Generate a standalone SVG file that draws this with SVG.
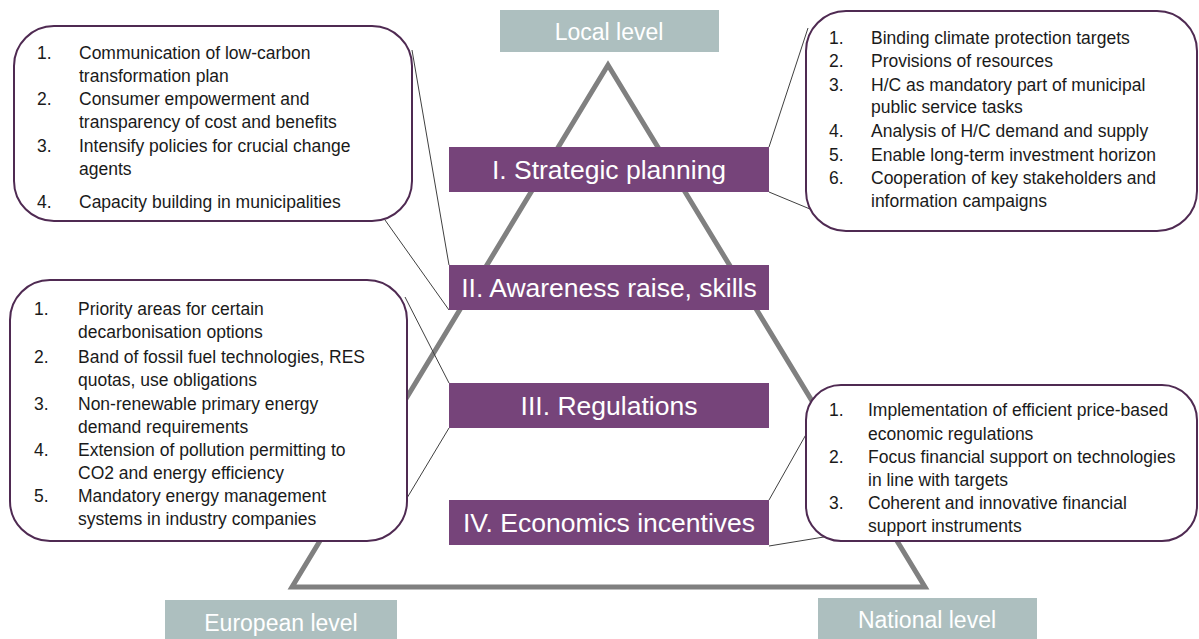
<svg xmlns="http://www.w3.org/2000/svg" width="1199" height="639" viewBox="0 0 1199 639">
<style>
.lvl{fill:#adbfbf}
.lvlt{fill:#ffffff;font-family:"Liberation Sans",Arial,sans-serif;font-size:23px;text-anchor:middle}
.pb{fill:#76447a}
.pbt{fill:#ffffff;font-family:"Liberation Sans",Arial,sans-serif;font-size:26.5px;text-anchor:middle}
.co{fill:#ffffff;stroke:#4f2a52;stroke-width:2}
.ct{fill:#1a1a1a;font-family:"Liberation Sans",Arial,sans-serif;font-size:17.5px}
.cn{fill:none;stroke:#404040;stroke-width:1}
</style>
<rect width="1199" height="639" fill="#ffffff"/>
<polygon id="pyramid" points="608,65 292,587 925,587" fill="none" stroke="#808080" stroke-width="5" stroke-linejoin="miter"/>
<g id="connectors">
<line class="cn" x1="412" y1="50" x2="449" y2="265"/>
<line class="cn" x1="385" y1="220" x2="449" y2="310"/>
<line class="cn" x1="808" y1="28" x2="769" y2="147"/>
<line class="cn" x1="769" y1="192" x2="822" y2="214"/>
<line class="cn" x1="405" y1="297" x2="449" y2="383"/>
<line class="cn" x1="407" y1="498" x2="449" y2="428"/>
<line class="cn" x1="769" y1="500" x2="830" y2="392"/>
<line class="cn" x1="769" y1="546" x2="830" y2="536"/>
</g>
<g id="local-level"><rect class="lvl" x="500" y="10" width="219" height="42"/><text class="lvlt" x="609" y="40">Local level</text></g>
<g id="european-level"><rect class="lvl" x="165" y="600" width="232" height="39"/><text class="lvlt" x="281" y="631">European level</text></g>
<g id="national-level"><rect class="lvl" x="818" y="598" width="219" height="41"/><text class="lvlt" x="927" y="628">National level</text></g>
<g id="strategic-planning"><rect class="pb" x="449" y="147" width="320" height="45"/><text class="pbt" x="609" y="179">I. Strategic planning</text></g>
<g id="awareness"><rect class="pb" x="449" y="265" width="320" height="45"/><text class="pbt" x="609" y="297">II. Awareness raise, skills</text></g>
<g id="regulations"><rect class="pb" x="449" y="383" width="320" height="45"/><text class="pbt" x="609" y="415">III. Regulations</text></g>
<g id="economics"><rect class="pb" x="449" y="500" width="320" height="45"/><text class="pbt" x="609" y="532">IV. Economics incentives</text></g>
<g id="callout-awareness">
<rect class="co" x="14" y="26" width="398" height="195" rx="40" ry="40"/>
<text class="ct"><tspan x="37" y="59">1.</tspan><tspan x="79" y="59">Communication of low-carbon</tspan><tspan x="79" y="82">transformation plan</tspan><tspan x="37" y="105">2.</tspan><tspan x="79" y="105">Consumer empowerment and</tspan><tspan x="79" y="128">transparency of cost and benefits</tspan><tspan x="37" y="152">3.</tspan><tspan x="79" y="152">Intensify policies for crucial change</tspan><tspan x="79" y="175">agents</tspan><tspan x="37" y="208">4.</tspan><tspan x="79" y="208">Capacity building in municipalities</tspan></text>
</g>
<g id="callout-strategic">
<rect class="co" x="806" y="11" width="391" height="220" rx="40" ry="40"/>
<text class="ct"><tspan x="829" y="44">1.</tspan><tspan x="871" y="44">Binding climate protection targets</tspan><tspan x="829" y="67">2.</tspan><tspan x="871" y="67">Provisions of resources</tspan><tspan x="829" y="91">3.</tspan><tspan x="871" y="91">H/C as mandatory part of municipal</tspan><tspan x="871" y="113">public service tasks</tspan><tspan x="829" y="137">4.</tspan><tspan x="871" y="137">Analysis of H/C demand and supply</tspan><tspan x="829" y="161">5.</tspan><tspan x="871" y="161">Enable long-term investment horizon</tspan><tspan x="829" y="184">6.</tspan><tspan x="871" y="184">Cooperation of key stakeholders and</tspan><tspan x="871" y="207">information campaigns</tspan></text>
</g>
<g id="callout-regulations">
<rect class="co" x="10" y="280" width="397" height="261" rx="40" ry="40"/>
<text class="ct"><tspan x="34" y="315">1.</tspan><tspan x="78" y="315">Priority areas for certain</tspan><tspan x="78" y="338">decarbonisation options</tspan><tspan x="34" y="363">2.</tspan><tspan x="78" y="363">Band of fossil fuel technologies, RES</tspan><tspan x="78" y="386">quotas, use obligations</tspan><tspan x="34" y="410">3.</tspan><tspan x="78" y="410">Non-renewable primary energy</tspan><tspan x="78" y="433">demand requirements</tspan><tspan x="34" y="456">4.</tspan><tspan x="78" y="456">Extension of pollution permitting to</tspan><tspan x="78" y="479">CO2 and energy efficiency</tspan><tspan x="34" y="502">5.</tspan><tspan x="78" y="502">Mandatory energy management</tspan><tspan x="78" y="525">systems in industry companies</tspan></text>
</g>
<g id="callout-economics">
<rect class="co" x="806" y="385" width="391" height="156" rx="35" ry="35"/>
<text class="ct"><tspan x="829" y="416">1.</tspan><tspan x="868" y="416">Implementation of efficient price-based</tspan><tspan x="868" y="440">economic regulations</tspan><tspan x="829" y="463">2.</tspan><tspan x="868" y="463">Focus financial support on technologies</tspan><tspan x="868" y="486">in line with targets</tspan><tspan x="829" y="509">3.</tspan><tspan x="868" y="509">Coherent and innovative financial</tspan><tspan x="868" y="532">support instruments</tspan></text>
</g>
</svg>
